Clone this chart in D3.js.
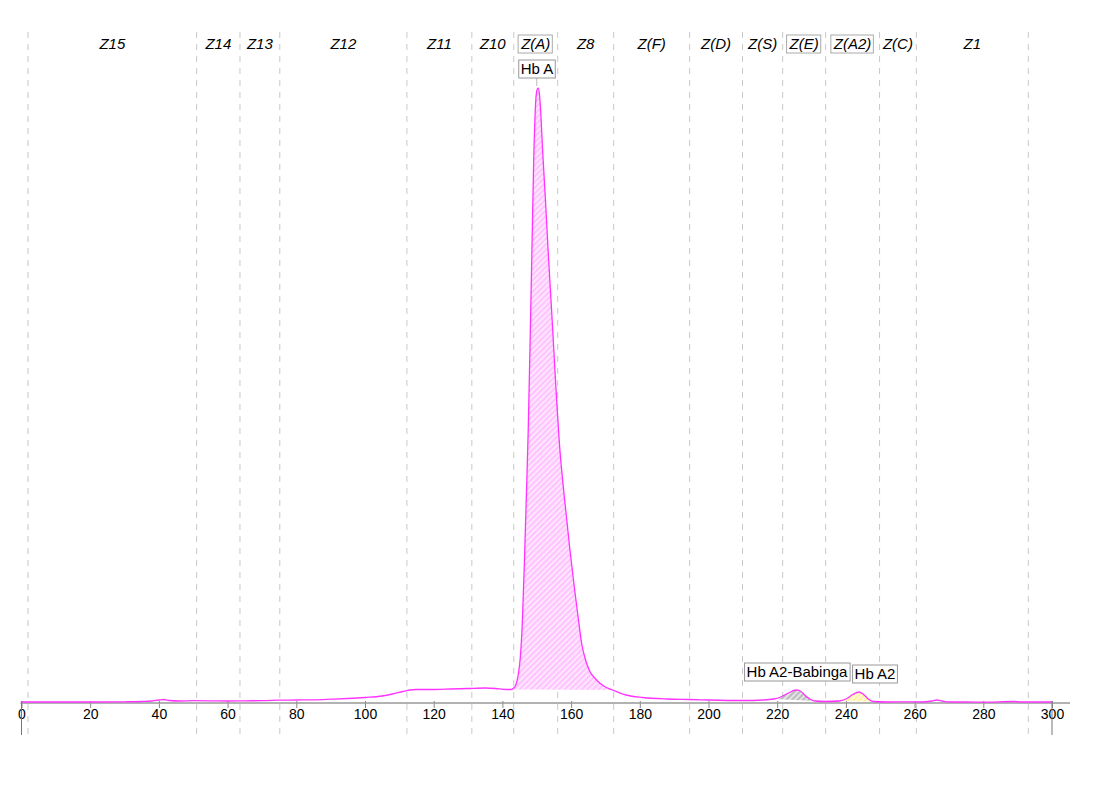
<!DOCTYPE html>
<html>
<head>
<meta charset="utf-8">
<script src="https://cdn.jsdelivr.net/npm/d3@7"></script>
<style>
  body { margin: 0; background: #fff; }
  text { font-family: "Liberation Sans", Arial, sans-serif; }
</style>
</head>
<body>
<svg width="1098" height="800"></svg>
<script>
// retention time (s) and detector signal
var retention = [0, 10, 20, 30, 35, 38, 40, 41.5, 43, 46, 50, 55, 60, 65, 70, 75, 80, 85, 90, 95,
  100, 105, 108, 111, 113, 115, 120, 125, 130, 135, 138, 141, 142.5, 143.3, 144, 144.6, 145.2, 145.8,
  146.4, 147, 147.5, 148, 148.6, 149.1, 149.6, 150, 150.4, 150.8, 151.2, 151.7, 152.5, 153.3, 154.5,
  155.5, 156.7, 158, 159.6, 161, 162, 163.1, 164.2, 165.4, 167.4, 169.5, 172.1, 176, 180.8, 188,
  194.5, 200, 210, 216, 219, 221, 223, 225.5, 226.5, 228, 229.5, 231, 234, 238, 240, 242, 243.8,
  245, 246.5, 248, 252, 258, 262, 265, 266.5, 268, 270, 275, 280, 289, 291, 300];
var signal = [1, 1, 1, 1.2, 1.5, 2, 3, 3.5, 2.5, 2, 2.3, 2.2, 2, 2.2, 2.3, 2.8, 3, 3.2, 3.8, 4.5,
  5.5, 7, 9, 11.5, 13, 13.5, 13.5, 14, 14.5, 15, 14.5, 13.5, 13.5, 15, 19, 28, 45, 80,
  140, 210, 270, 350, 453, 540, 595, 612, 615, 608, 588, 553, 505, 453, 382,
  320, 255, 207, 155, 114, 87, 59, 43, 32, 23, 17, 13, 8, 5.5, 4,
  3.5, 3, 2.5, 3, 4, 6, 9.5, 13, 12.5, 8, 4, 2, 1.5, 2, 4, 8.5, 11,
  9, 4, 1.5, 1, 1.2, 1, 2, 3, 2, 1, 1, 0.8, 1.5, 1, 1];

// zone boundaries and names
var zoneEdges = [1.9, 51, 63.6, 75.2, 112.2, 131.1, 143.3, 156.1, 172.4, 194.5, 209.9, 221.6, 234.1, 249.8, 260.5, 293.1];
var zoneNames = ["Z15", "Z14", "Z13", "Z12", "Z11", "Z10", "Z(A)", "Z8", "Z(F)", "Z(D)", "Z(S)", "Z(E)", "Z(A2)", "Z(C)", "Z1"];
var zoneBoxed = ["Z(A)", "Z(E)", "Z(A2)"];

// integrated peaks
var peakNames = ["Hb A", "Hb A2-Babinga", "Hb A2"];
var peakStart = [142.5, 219, 238];
var peakEnd = [172.1, 231, 248];
var peakApex = [150, 225.5, 243.8];
var peakColors = ["#ffc4ff", "#bdbdbd", "#fff2a0"];

var xTicks = d3.range(0, 301, 20);

var svg = d3.select("svg");
var baseY = 703;

var x = d3.scaleLinear().domain([0, 300]).range([21.5, 1052]);
var y = d3.scaleLinear().domain([0, 615]).range([baseY, 88]);

var pts = retention.map(function(t, i) { return [t, signal[i]]; });

var line = d3.line()
  .x(function(d) { return x(d[0]); })
  .y(function(d) { return y(d[1]); })
  .curve(d3.curveMonotoneX);

// hatch patterns
var defs = svg.append("defs");
peakColors.forEach(function(c, i) {
  var p = defs.append("pattern")
    .attr("id", "hatch" + i)
    .attr("patternUnits", "userSpaceOnUse")
    .attr("width", 4).attr("height", 4)
    .attr("patternTransform", "rotate(45)");
  p.append("rect").attr("width", 4).attr("height", 4).attr("fill", c);
  p.append("rect").attr("width", 1.5).attr("height", 4).attr("fill", "#fff").attr("opacity", 0.75);
});

// zone lines
svg.append("g").selectAll("line")
  .data(zoneEdges)
  .enter().append("line")
    .attr("x1", function(d) { return x(d); })
    .attr("x2", function(d) { return x(d); })
    .attr("y1", 32).attr("y2", 736)
    .attr("stroke", "#c8c8c8")
    .attr("stroke-dasharray", "6,6");

// zone labels
var zl = svg.append("g").selectAll("g")
  .data(zoneNames)
  .enter().append("g");
zl.append("text")
  .attr("x", function(d, i) { return (x(zoneEdges[i]) + x(zoneEdges[i + 1])) / 2; })
  .attr("y", 49)
  .attr("text-anchor", "middle")
  .attr("font-style", "italic")
  .attr("font-size", 15)
  .text(function(d) { return d; })
  .each(function(d) {
    if (zoneBoxed.indexOf(d) < 0) return;
    var b = this.getBBox();
    d3.select(this.parentNode).insert("rect", "text")
      .attr("x", b.x - 2).attr("y", b.y)
      .attr("width", b.width + 4).attr("height", b.height + 1)
      .attr("fill", "#fff").attr("stroke", "#aaa");
  });

// peak fills
peakNames.forEach(function(n, i) {
  var seg = pts.filter(function(d) { return d[0] >= peakStart[i] && d[0] <= peakEnd[i]; });
  svg.append("path")
    .attr("d", line(seg) + "Z")
    .attr("fill", "url(#hatch" + i + ")")
    .attr("stroke", "none");
});

// axis
var axis = svg.append("g")
  .attr("transform", "translate(0," + baseY + ")")
  .call(d3.axisBottom(x).tickValues(xTicks).tickSize(5).tickSizeOuter(0));
axis.select(".domain").remove();
axis.selectAll(".tick line").attr("stroke", "#888").attr("y1", -2);
axis.selectAll(".tick text")
  .attr("font-size", 14).attr("fill", "#000").attr("dy", "0.6em")
  .style("font-family", "'Liberation Sans', Arial, sans-serif");
svg.append("line")
  .attr("x1", x(0) - 1).attr("x2", 1070)
  .attr("y1", baseY).attr("y2", baseY)
  .attr("stroke", "#999").attr("stroke-width", 1.5);
svg.selectAll(".endTick")
  .data([0, 300])
  .enter().append("line")
    .attr("x1", function(d) { return x(d); })
    .attr("x2", function(d) { return x(d); })
    .attr("y1", baseY - 2).attr("y2", 735)
    .attr("stroke", "#777");

// trace
svg.append("path")
  .attr("d", line(pts))
  .attr("fill", "none")
  .attr("stroke", "#ff33ff")
  .attr("stroke-width", 1.3);

// peak labels
var labelPos = [[537, 74], [797, 677], [875, 679]];
peakNames.forEach(function(n, i) {
  var g = svg.append("g");
  if (i === 0) {
    g.append("line")
      .attr("x1", x(peakApex[i])).attr("x2", x(peakApex[i]))
      .attr("y1", 78).attr("y2", 86)
      .attr("stroke", "#bbb");
  }
  var t = g.append("text")
    .attr("x", labelPos[i][0]).attr("y", labelPos[i][1])
    .attr("text-anchor", "middle")
    .attr("font-size", 15)
    .text(n);
  var b = t.node().getBBox();
  g.insert("rect", "text")
    .attr("x", b.x - 2).attr("y", b.y)
    .attr("width", b.width + 4).attr("height", b.height + 1)
    .attr("fill", "#fff").attr("stroke", "#999");
});
</script>
</body>
</html>
